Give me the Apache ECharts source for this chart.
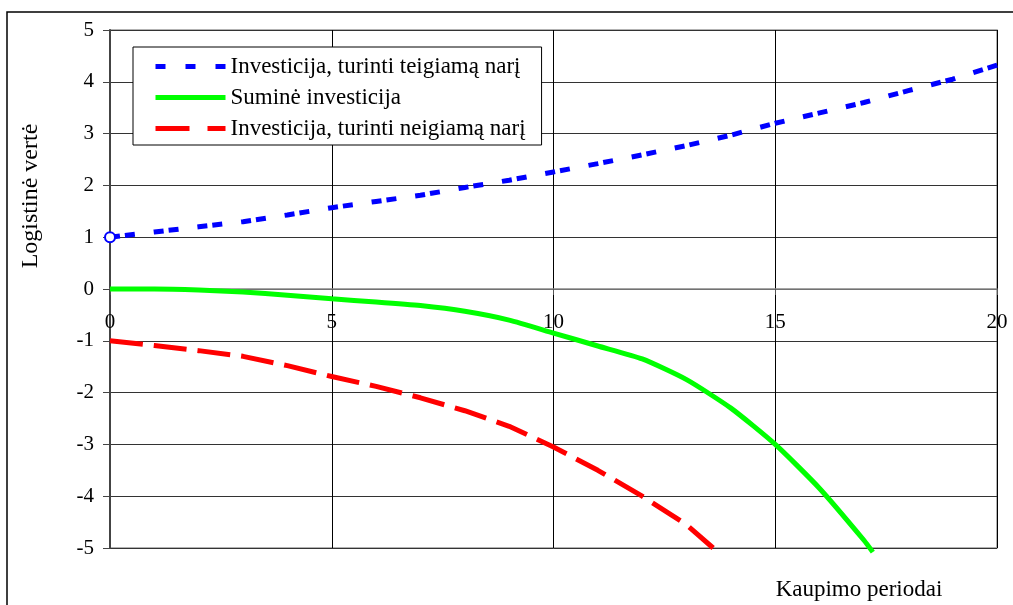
<!DOCTYPE html>
<html>
<head>
<meta charset="utf-8">
<script src="https://cdn.jsdelivr.net/npm/echarts@6/dist/echarts.min.js"></script>
<style>
html,body{margin:0;padding:0;background:#fff;}
#chart{width:1013px;height:605px;}
</style>
</head>
<body>
<div id="chart"></div>
<script>
// ---- data ----
var seriesNames = ['Investicija, turinti teigiamą narį', 'Suminė investicija', 'Investicija, turinti neigiamą narį'];
var xTicks = [0, 5, 10, 15, 20];
var yTicks = [-5, -4, -3, -2, -1, 0, 1, 2, 3, 4, 5];

var blueX = [0, 1, 2, 3, 4, 5, 6, 7, 8, 9, 10, 11, 12, 13, 14, 15, 16, 17, 18, 19, 20, 20.2];
var blueY = [1.0, 1.1, 1.2, 1.3, 1.43, 1.57, 1.69, 1.81, 1.96, 2.1, 2.26, 2.42, 2.59, 2.77, 2.97, 3.2, 3.4, 3.6, 3.83, 4.05, 4.32, 4.37];

var greenX = [0, 1, 2, 3, 4, 5, 6, 7, 8, 9, 10, 11, 12, 13, 14, 15, 16, 17, 17.2];
var greenY = [0, 0, -0.02, -0.06, -0.12, -0.19, -0.25, -0.32, -0.43, -0.6, -0.85, -1.1, -1.35, -1.75, -2.3, -3.0, -3.85, -4.85, -5.08];

var redX = [0, 1, 2, 3, 4, 5, 6, 7, 8, 9, 10, 11, 12, 13, 13.6];
var redY = [-1, -1.09, -1.19, -1.3, -1.48, -1.69, -1.88, -2.1, -2.35, -2.65, -3.05, -3.5, -4.0, -4.55, -5.0];

function pairs(xs, ys) {
  var out = [];
  for (var i = 0; i < xs.length; i++) out.push([xs[i], ys[i]]);
  return out;
}

var blueData = pairs(blueX, blueY);
blueData[0] = {value: blueData[0], symbol: 'emptyCircle', symbolSize: 10,
  itemStyle: {color: '#0000ff', borderColor: '#0000ff', borderWidth: 2}};

var FONT = '"Liberation Serif", "Times New Roman", serif';

var GRID_TOP = 30, GRID_BOTTOM = 57, H = 605;
var plotH = H - GRID_TOP - GRID_BOTTOM;
// distance from the bottom edge of the plot up to the y = 0 line
var zeroOffset = plotH * (0 - yTicks[0]) / (yTicks[yTicks.length - 1] - yTicks[0]);

var chart = echarts.init(document.getElementById('chart'), null, {renderer: 'canvas'});
chart.setOption({
  animation: false,
  backgroundColor: '#ffffff',
  textStyle: {fontFamily: FONT},
  grid: {left: 110, top: GRID_TOP, right: 16, bottom: GRID_BOTTOM, show: true, borderColor: '#999999', borderWidth: 1.5, backgroundColor: 'transparent'},
  legend: {
    orient: 'vertical',
    left: 133, top: 47,
    padding: [8, 16, 5, 20],
    itemWidth: 70, itemHeight: 20, itemGap: 8,
    backgroundColor: '#ffffff',
    borderColor: '#000000', borderWidth: 1,
    textStyle: {fontFamily: FONT, fontSize: 23, color: '#000'},
    itemStyle: {color: 'rgba(0,0,0,0)', borderWidth: 0, opacity: 0},
    data: [
      {name: seriesNames[0], lineStyle: {width: 5, type: [10, 20]}},
      {name: seriesNames[1], lineStyle: {width: 5, type: 'solid'}},
      {name: seriesNames[2], lineStyle: {width: 5, type: [34, 18]}}
    ]
  },
  graphic: [
    {type: 'rect', silent: true, z: -10,
     shape: {x: 7, y: 12, width: 1100, height: 700},
     style: {fill: 'none', stroke: '#000', lineWidth: 1.5}},
    {type: 'text', x: 31, y: 196, rotation: Math.PI / 2, silent: true,
     style: {text: 'Logistinė vertė', font: '24px ' + FONT, fill: '#000', textAlign: 'center', textVerticalAlign: 'middle'}},
    {type: 'text', x: 859, y: 590, silent: true,
     style: {text: 'Kaupimo periodai', font: '23px ' + FONT, fill: '#000', textAlign: 'center', textVerticalAlign: 'middle'}}
  ],
  xAxis: {
    type: 'value', min: xTicks[0], max: xTicks[xTicks.length - 1], interval: 5,
    position: 'bottom', offset: -zeroOffset,
    axisLine: {show: true, onZero: false, lineStyle: {color: '#888', width: 1.5}},
    axisTick: {show: true, length: 6, lineStyle: {color: '#555'}},
    axisLabel: {fontFamily: FONT, fontSize: 21, color: '#000', margin: 23},
    splitLine: {show: true, lineStyle: {color: '#000', width: 1}}
  },
  yAxis: {
    type: 'value', min: yTicks[0], max: yTicks[yTicks.length - 1], interval: 1,
    axisLine: {show: true, onZero: false, lineStyle: {color: '#444', width: 2}},
    axisTick: {show: true, length: 7, lineStyle: {color: '#444'}},
    axisLabel: {fontFamily: FONT, fontSize: 21, color: '#000', margin: 16},
    splitLine: {show: true, lineStyle: {color: '#333', width: 1}}
  },
  series: [
    {name: seriesNames[0], type: 'line', data: blueData, symbol: 'none', clip: false,
     lineStyle: {color: '#0000ff', width: 5, type: [10, 5, 10, 19]}, itemStyle: {color: '#0000ff'}, z: 3},
    {name: seriesNames[1], type: 'line', data: pairs(greenX, greenY), symbol: 'none', smooth: 0.2, clip: false,
     lineStyle: {color: '#00ff00', width: 5}, itemStyle: {color: '#00ff00'}, z: 3},
    {name: seriesNames[2], type: 'line', data: pairs(redX, redY), symbol: 'none',
     lineStyle: {color: '#ff0000', width: 5, type: [33, 11]}, itemStyle: {color: '#ff0000'}, z: 3}
  ]
});
</script>
</body>
</html>
